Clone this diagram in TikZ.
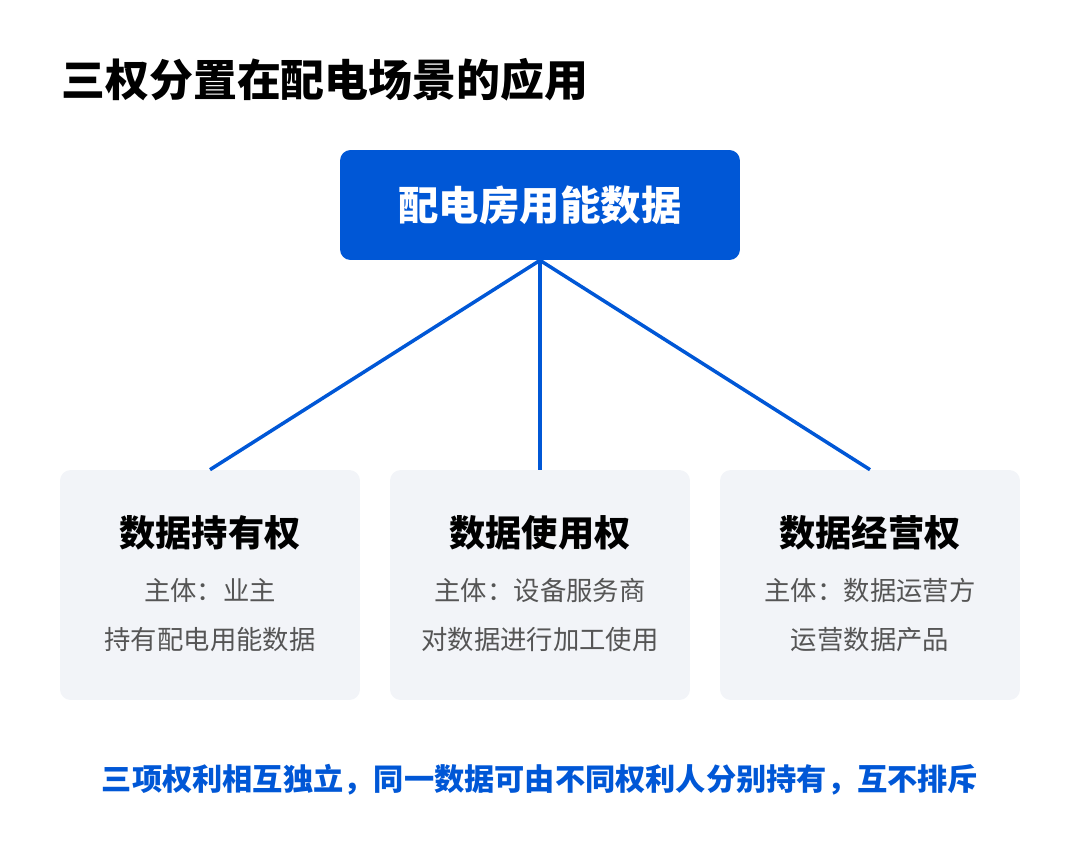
\documentclass[tikz,border=0pt]{standalone}
\usepackage{fontspec}
\setmainfont{Noto Sans CJK SC}
\usetikzlibrary{positioning}
\definecolor{mainblue}{HTML}{0057D6}
\definecolor{cardbg}{HTML}{F2F4F8}
\definecolor{subgray}{HTML}{555555}
\tikzset{root/.style={draw=none,fill=mainblue,rounded corners=6pt,minimum width=8cm,minimum height=2.2cm,text=white,font=\fontsize{23}{27}\selectfont\bfseries},
card/.style={draw=none,fill=cardbg,rounded corners=6pt,minimum width=6cm,minimum height=4.6cm},
link/.style={mainblue,line width=2pt}}
\begin{document}
\begin{tikzpicture}[x=0.02cm,y=-0.02cm]
		\useasboundingbox (0,0) rectangle (1080,850);
		\node[anchor=west,inner sep=0pt,font=\fontsize{25}{30}\selectfont\bfseries] (title) at (61,80) {三权分置在配电场景的应用};
		\node[root] (data) at (540,205) {配电房用能数据};
		\foreach \x/\name/\t/\a/\b in {210/hold/数据持有权/主体：业主/持有配电用能数据,
				540/use/数据使用权/主体：设备服务商/对数据进行加工使用,
				870/run/数据经营权/主体：数据运营方/运营数据产品}{
			\node[card] (\name) at (\x,585) {};
			\node[font=\fontsize{20.6}{25}\selectfont\bfseries] (\name t) at (\x,533) {\t};
			\node[font=\fontsize{15}{18}\selectfont,text=subgray] (\name a) at (\x,590) {\a};
			\node[font=\fontsize{15}{18}\selectfont,text=subgray] (\name b) at (\x,640) {\b};
			\draw[link] (data.south) -- (\name.north);
		}
		\node[font=\fontsize{17.2}{21}\selectfont\bfseries,text=mainblue] (note) at (540,780) {三项权利相互独立，同一数据可由不同权利人分别持有，互不排斥};
	\end{tikzpicture}
\end{document}
